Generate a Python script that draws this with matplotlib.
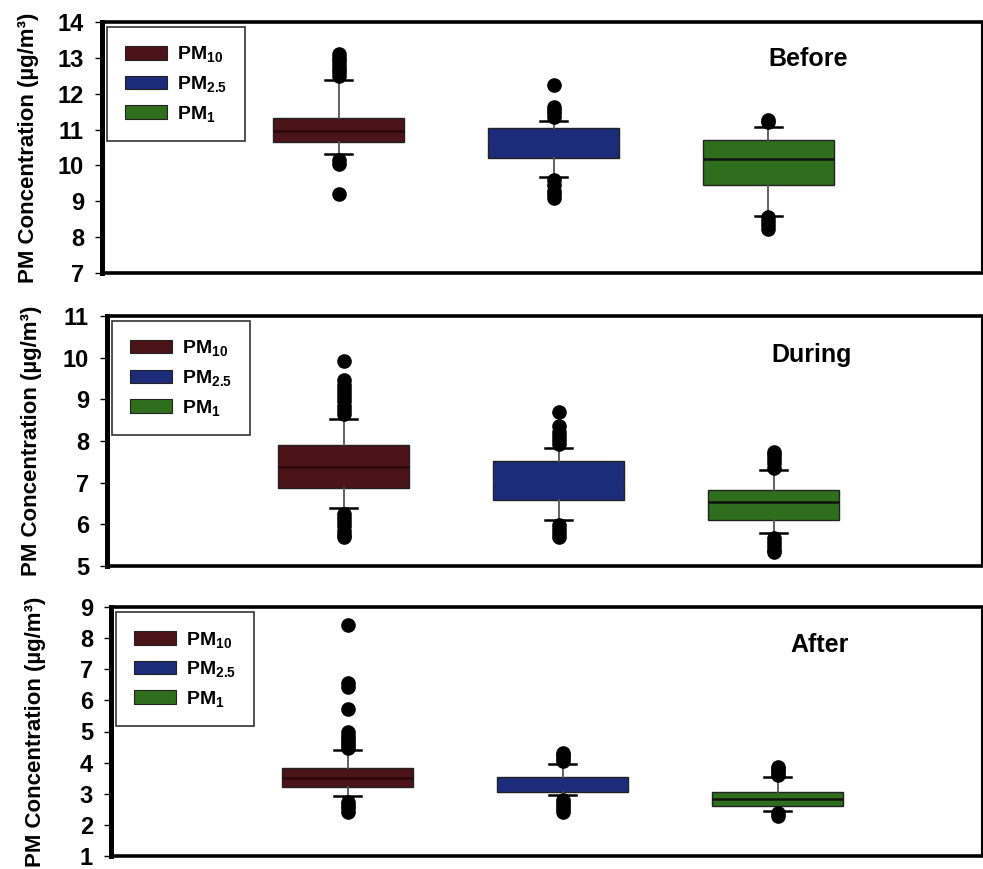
import matplotlib
matplotlib.use('Agg')
import matplotlib.pyplot as plt
from matplotlib.patches import Patch

plt.rcParams['font.family'] = ['Liberation Sans', 'DejaVu Sans']
plt.rcParams['font.weight'] = 'bold'
plt.rcParams['mathtext.fontset'] = 'custom'
plt.rcParams['mathtext.rm'] = 'Liberation Sans:bold'
plt.rcParams['mathtext.it'] = 'Liberation Sans:bold'
plt.rcParams['mathtext.bf'] = 'Liberation Sans:bold'

# ---------------- data ----------------
series = ['PM$_{10}$', 'PM$_{2.5}$', 'PM$_{1}$']
periods = ['Before', 'During', 'After']
colors = ['#4a1418', '#1d2c7a', '#2f6e1d']
median_colors = ['#2a080b', '#1d2c7a', '#111111']

y_ranges = [(7, 14), (5, 11), (1, 9)]

# Before
before_q1 = [10.65, 10.22, 9.46]
before_med = [10.97, 10.65, 10.19]
before_q3 = [11.32, 11.04, 10.72]
before_lo = [10.31, 9.67, 8.58]
before_hi = [12.38, 11.24, 11.07]
before_fliers = [
    [12.5, 12.6, 12.7, 12.8, 12.9, 13.0, 13.1, 10.15, 10.05, 9.2],
    [11.35, 11.45, 11.55, 11.62, 12.25, 9.6, 9.45, 9.3, 9.2, 9.1],
    [11.2, 11.27, 8.55, 8.45, 8.35, 8.22],
]

# During
during_q1 = [6.87, 6.59, 6.11]
during_med = [7.37, 7.05, 6.54]
during_q3 = [7.90, 7.51, 6.83]
during_lo = [6.39, 6.11, 5.79]
during_hi = [8.53, 7.84, 7.31]
during_fliers = [
    [8.65, 8.75, 8.85, 8.95, 9.05, 9.15, 9.25, 9.35, 9.47, 9.91,
     6.25, 6.15, 6.05, 5.95, 5.85, 5.75, 5.69],
    [7.92, 8.02, 8.12, 8.22, 8.36, 8.70, 5.98, 5.88, 5.78, 5.69],
    [7.36, 7.46, 7.56, 7.66, 7.73, 5.68, 5.58, 5.48, 5.38, 5.33],
]

# After
after_q1 = [3.21, 3.07, 2.61]
after_med = [3.50, 3.30, 2.84]
after_q3 = [3.82, 3.55, 3.07]
after_lo = [2.92, 2.95, 2.45]
after_hi = [4.39, 3.95, 3.55]
after_fliers = [
    [8.41, 6.55, 6.42, 5.71, 4.97, 4.87, 4.77, 4.67, 4.57, 4.47,
     2.74, 2.64, 2.54, 2.42],
    [4.05, 4.15, 4.25, 4.32, 2.8, 2.7, 2.6, 2.5, 2.42],
    [3.6, 3.7, 3.8, 3.87, 2.37, 2.27],
]

period_data = [
    (before_q1, before_med, before_q3, before_lo, before_hi, before_fliers),
    (during_q1, during_med, during_q3, during_lo, during_hi, during_fliers),
    (after_q1, after_med, after_q3, after_lo, after_hi, after_fliers),
]

# ---------------- layout (pixels) ----------------
FW, FH = 983, 869
fig = plt.figure(figsize=(FW / 100, FH / 100), dpi=100)

panels_px = [  # left, top, bottom
    (102, 22, 273),
    (107, 316, 566),
    (111, 607, 856),
]
right_px = 982
label_x_px = [39, 42, 46]
title_px = [(808, 59), (812, 355), (820, 645)]

px_per_unit = 215.0
first_center_px = 236.5

for i, (period, (q1, med, q3, lo, hi, fl)) in enumerate(zip(periods, period_data)):
    L, T, B = panels_px[i]
    W = right_px - L
    H = B - T
    ax = fig.add_axes([L / FW, 1 - B / FH, W / FW, H / FH])

    stats = []
    for j in range(3):
        stats.append(dict(q1=q1[j], med=med[j], q3=q3[j], whislo=lo[j],
                          whishi=hi[j], fliers=fl[j], label=series[j]))
    res = ax.bxp(stats, positions=[1, 2, 3], widths=0.61, patch_artist=True,
                 showfliers=True, capwidths=0.13,
                 boxprops=dict(edgecolor='#222222', linewidth=1.0),
                 whiskerprops=dict(color='#555555', linewidth=1.3),
                 capprops=dict(color='black', linewidth=1.8),
                 flierprops=dict(marker='o', markerfacecolor='black',
                                 markeredgecolor='black', markersize=9.5,
                                 linestyle='none'),
                 medianprops=dict(linewidth=1.8))
    for j, box in enumerate(res['boxes']):
        box.set_facecolor(colors[j])
    for j, m in enumerate(res['medians']):
        m.set_color(median_colors[j])

    ax.set_xlim(1 - first_center_px / px_per_unit,
                1 + (W - first_center_px) / px_per_unit)
    ymin, ymax = y_ranges[i]
    ax.set_ylim(ymin, ymax)
    ax.set_yticks(range(ymin, ymax + 1))
    ax.set_xticks([])
    ax.tick_params(axis='y', direction='out', length=5, width=1.0,
                   labelsize=17, pad=8)
    for lab in ax.get_yticklabels():
        lab.set_fontweight('bold')

    ax.spines['top'].set_linewidth(2.6)
    ax.spines['bottom'].set_linewidth(2.6)
    ax.spines['left'].set_linewidth(3.6)
    ax.spines['right'].set_linewidth(1.5)

    ax.set_ylabel('PM Concentration (µg/m³)', fontsize=16, fontweight='bold')
    ax.yaxis.set_label_coords((label_x_px[i] - L) / W, 0.5)

    tx, ty = title_px[i]
    ax.text((tx - L) / W, 1 - (ty - T) / H, period, transform=ax.transAxes,
            ha='center', va='center', fontsize=18, fontweight='bold')

    handles = [Patch(facecolor=colors[j], edgecolor='#222222', linewidth=0.8)
               for j in range(3)]
    leg = ax.legend(handles, series, loc='upper left',
                    bbox_to_anchor=(5 / W, 1 - 5 / H), borderaxespad=0,
                    frameon=True, fancybox=False, edgecolor='black',
                    handlelength=2.2, handleheight=0.7,
                    labelspacing=0.5, borderpad=0.9, handletextpad=0.5,
                    prop={'weight': 'bold', 'size': 14})
    leg.get_frame().set_linewidth(1.2)

fig.savefig('out.png', dpi=100)
